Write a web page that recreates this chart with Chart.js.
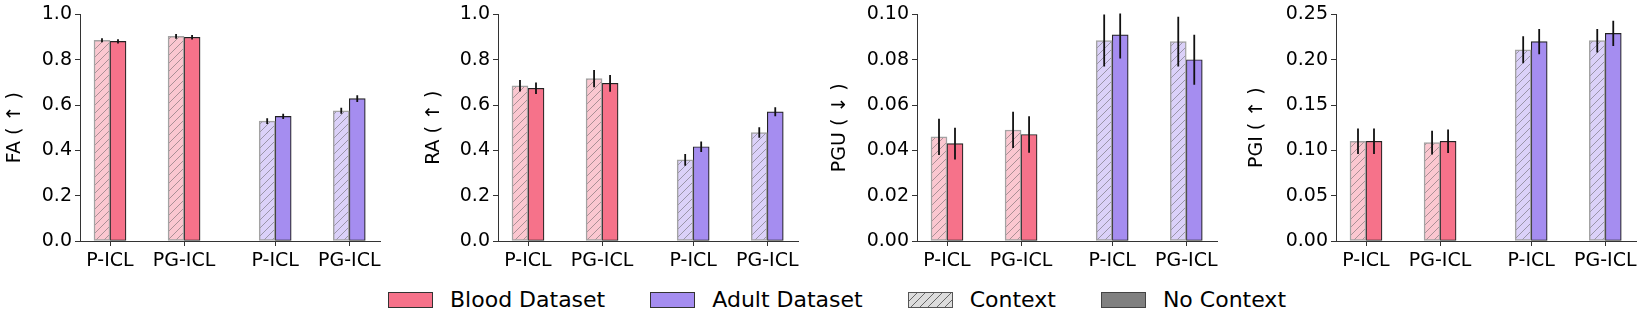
<!DOCTYPE html>
<html>
<head>
<meta charset="utf-8">
<script src="https://cdn.jsdelivr.net/npm/chart.js@4/dist/chart.umd.min.js"></script>
<style>
body { margin: 0; background: #fff; width: 1644px; height: 327px; overflow: hidden; position: relative; font-family: 'DejaVu Sans', sans-serif; }
.panel { position: absolute; top: 0; }
#legend { position: absolute; left: 388px; top: 285px; height: 30px; display: flex; align-items: center; font-size: 22px; line-height: 30px; color: #000; }
.item { display: flex; align-items: center; margin-right: 45px; }
.sw { width: 43px; height: 14px; border: 1px solid #333; margin-right: 17px; box-sizing: content-box; }
</style>
</head>
<body>
<div class="panel" id="p0"><canvas id="c0"></canvas></div>
<div class="panel" id="p1"><canvas id="c1"></canvas></div>
<div class="panel" id="p2"><canvas id="c2"></canvas></div>
<div class="panel" id="p3"><canvas id="c3"></canvas></div>
<div id="legend">
  <div class="item"><div class="sw" style="background:#F6728A;border-color:#333"></div>Blood Dataset</div>
  <div class="item"><div class="sw" style="background:#A58DF0;border-color:#333"></div>Adult Dataset</div>
  <div class="item"><div class="sw" style="border-color:#555;background:repeating-linear-gradient(135deg,#ddd 0px,#ddd 5px,#666 5px,#666 6px)"></div>Context</div>
  <div class="item"><div class="sw" style="background:#808080;border-color:#444"></div>No Context</div>
</div>
<script>
// grupos del eje x (dos por dataset)
const groups = ['P-ICL', 'PG-ICL', 'P-ICL', 'PG-ICL'];
const metrics = ['FA ( ↑ )', 'RA ( ↑ )', 'PGU ( ↓ )', 'PGI ( ↑ )'];

// valores
const faContext = [0.886, 0.903, 0.529, 0.575];
const faNoContext = [0.881, 0.899, 0.550, 0.628];
const faErrContext = [0.009, 0.010, 0.013, 0.013];
const faErrNoContext = [0.009, 0.010, 0.012, 0.015];

const raContext = [0.685, 0.717, 0.358, 0.479];
const raNoContext = [0.674, 0.696, 0.416, 0.570];
const raErrContext = [0.025, 0.038, 0.026, 0.023];
const raErrNoContext = [0.025, 0.037, 0.023, 0.020];

const pguContext = [0.046, 0.049, 0.0885, 0.088];
const pguNoContext = [0.043, 0.047, 0.091, 0.080];
const pguErrContext = [0.008, 0.008, 0.0115, 0.011];
const pguErrNoContext = [0.007, 0.008, 0.0105, 0.011];

const pgiContext = [0.110, 0.1085, 0.211, 0.221];
const pgiNoContext = [0.110, 0.110, 0.220, 0.229];
const pgiErrContext = [0.014, 0.013, 0.015, 0.013];
const pgiErrNoContext = [0.014, 0.013, 0.014, 0.014];

const ticksAcc = [0, 0.2, 0.4, 0.6, 0.8, 1.0];
const ticksPGU = [0, 0.02, 0.04, 0.06, 0.08, 0.10];
const ticksPGI = [0, 0.05, 0.10, 0.15, 0.20, 0.25];

// posiciones de los grupos en unidades del eje x
const groupPos = [0, 1, 2.23, 3.23];

const bloodColor = '#F6728A';
const adultColor = '#A58DF0';
const bloodLight = 'rgb(251,199,208)';
const adultLight = 'rgb(219,209,249)';

function makeHatch(bg) {
    const c = document.createElement('canvas');
    c.width = 8; c.height = 8;
    const g = c.getContext('2d');
    g.fillStyle = bg;
    g.fillRect(0, 0, 8, 8);
    g.strokeStyle = 'rgba(90,90,90,0.5)';
    g.lineWidth = 1;
    g.beginPath();
    g.moveTo(0, 8); g.lineTo(8, 0);
    g.moveTo(-2, 2); g.lineTo(2, -2);
    g.moveTo(6, 10); g.lineTo(10, 6);
    g.stroke();
    return g.createPattern(c, 'repeat');
}

const errorBars = {
    id: 'errorBars',
    afterDatasetsDraw(chart) {
        const {ctx, chartArea, scales: {y}} = chart;
        ctx.save();
        ctx.beginPath();
        ctx.rect(chartArea.left, chartArea.top - 1, chartArea.width, chartArea.height + 1);
        ctx.clip();
        ctx.strokeStyle = '#111';
        ctx.lineWidth = 1.8;
        chart.data.datasets.forEach((ds, di) => {
            const meta = chart.getDatasetMeta(di);
            meta.data.forEach((bar, i) => {
                const v = ds.data[i].y;
                const e = ds.errors[i];
                ctx.beginPath();
                ctx.moveTo(bar.x, y.getPixelForValue(v - e));
                ctx.lineTo(bar.x, y.getPixelForValue(v + e));
                ctx.stroke();
            });
        });
        ctx.restore();
    }
};

const panels = [
    {ctx: faContext, noctx: faNoContext, ectx: faErrContext, enoctx: faErrNoContext, ticks: ticksAcc, dec: 1},
    {ctx: raContext, noctx: raNoContext, ectx: raErrContext, enoctx: raErrNoContext, ticks: ticksAcc, dec: 1},
    {ctx: pguContext, noctx: pguNoContext, ectx: pguErrContext, enoctx: pguErrNoContext, ticks: ticksPGU, dec: 2},
    {ctx: pgiContext, noctx: pgiNoContext, ectx: pgiErrContext, enoctx: pgiErrNoContext, ticks: ticksPGI, dec: 2}
];

const axisX = [80, 498, 917, 1336];
const axisW = [80, 79, 92, 94];

function drawPanel(k) {
    const p = panels[k];
    const div = document.getElementById('p' + k);
    const canvas = document.getElementById('c' + k);
    const w = axisW[k] + 300 + 8;
    div.style.left = (axisX[k] - axisW[k]) + 'px';
    canvas.width = w;
    canvas.height = 275;

    const hatchBlood = makeHatch(bloodLight);
    const hatchAdult = makeHatch(adultLight);
    const font = {family: 'DejaVu Sans', size: 19};

    new Chart(canvas, {
        type: 'bar',
        data: {
            datasets: [{
                label: 'Context',
                data: groupPos.map((x, i) => ({x: x, y: p.ctx[i]})),
                errors: p.ectx,
                backgroundColor: [hatchBlood, hatchBlood, hatchAdult, hatchAdult],
                borderColor: '#a3a3a3',
                borderWidth: 1.5,
                borderSkipped: false,
                barThickness: 16
            }, {
                label: 'No Context',
                data: groupPos.map((x, i) => ({x: x, y: p.noctx[i]})),
                errors: p.enoctx,
                backgroundColor: [bloodColor, bloodColor, adultColor, adultColor],
                borderColor: '#222',
                borderWidth: 1.2,
                borderSkipped: false,
                barThickness: 16
            }]
        },
        options: {
            responsive: false,
            animation: false,
            layout: {padding: {top: 13, right: 8, bottom: 0, left: 0}},
            plugins: {legend: {display: false}, tooltip: {enabled: false}},
            scales: {
                x: {
                    type: 'linear',
                    min: -0.405,
                    max: 3.645,
                    offset: false,
                    afterBuildTicks: s => { s.ticks = groupPos.map(v => ({value: v})); },
                    afterFit: s => { s.height = 34; },
                    ticks: {
                        autoSkip: false,
                        maxRotation: 0,
                        padding: 4,
                        color: '#000',
                        font: font,
                        callback: (v, i) => groups[i]
                    },
                    grid: {drawOnChartArea: false, drawTicks: true, tickLength: 5, color: '#333', offset: false},
                    border: {color: '#333', width: 1}
                },
                y: {
                    min: 0,
                    max: p.ticks[p.ticks.length - 1],
                    afterBuildTicks: s => { s.ticks = p.ticks.map(v => ({value: v})); },
                    afterFit: s => { s.width = axisW[k]; },
                    ticks: {
                        padding: 3,
                        color: '#000',
                        font: font,
                        callback: v => v.toFixed(p.dec)
                    },
                    grid: {drawOnChartArea: false, drawTicks: true, tickLength: 5, color: '#333'},
                    border: {color: '#333', width: 1},
                    title: {display: true, text: metrics[k], color: '#000', font: font, padding: {top: 4, bottom: 0}}
                }
            }
        },
        plugins: [errorBars]
    });
}

for (let k = 0; k < 4; k++) drawPanel(k);
</script>
</body>
</html>
